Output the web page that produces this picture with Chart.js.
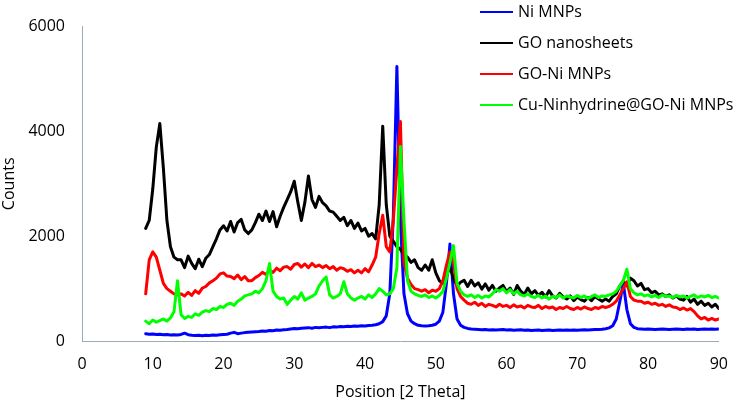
<!DOCTYPE html>
<html><head><meta charset="utf-8">
<script src="https://cdn.jsdelivr.net/npm/chart.js@4/dist/chart.umd.min.js"></script>
<style>html,body{margin:0;padding:0;background:#fff}#wrap{width:742px;height:408px;position:relative}</style>
</head><body><div id="wrap"><canvas id="c" width="742" height="408"></canvas></div>
<script>
const positions=[9,9.5,10,10.5,11,11.5,12,12.5,13,13.5,
14,14.5,15,15.5,16,16.5,17,17.5,18,18.5,
19,19.5,20,20.5,21,21.5,22,22.5,23,23.5,
24,24.5,25,25.5,26,26.5,27,27.5,28,28.5,
29,29.5,30,30.5,31,31.5,32,32.5,33,33.5,
34,34.5,35,35.5,36,36.5,37,37.5,38,38.5,
39,39.5,40,40.5,41,41.5,42,42.5,43,43.5,
44,44.5,45,45.5,46,46.5,47,47.5,48,48.5,
49,49.5,50,50.5,51,51.5,52,52.5,53,53.5,
54,54.5,55,55.5,56,56.5,57,57.5,58,58.5,
59,59.5,60,60.5,61,61.5,62,62.5,63,63.5,
64,64.5,65,65.5,66,66.5,67,67.5,68,68.5,
69,69.5,70,70.5,71,71.5,72,72.5,73,73.5,
74,74.5,75,75.5,76,76.5,77,77.5,78,78.5,
79,79.5,80,80.5,81,81.5,82,82.5,83,83.5,
84,84.5,85,85.5,86,86.5,87,87.5,88,88.5,
89,89.5,90];
const niMNPs=[140,130,135,125,130,120,125,115,120,115,
125,150,120,110,105,110,100,110,105,115,
110,120,125,130,150,165,140,150,160,165,
170,175,180,190,185,200,195,210,205,215,
220,230,240,235,245,250,255,245,260,255,
260,265,255,270,265,275,270,280,275,285,
280,290,285,295,300,310,330,370,480,900,
2400,5240,2300,900,520,380,330,300,290,285,
290,300,320,380,550,1100,1850,900,420,300,
260,240,230,225,220,215,220,210,215,210,
215,220,210,215,205,210,215,205,210,200,
205,210,200,205,210,200,205,210,205,210,
205,210,205,210,215,210,215,220,220,225,
235,250,290,420,750,1100,600,330,260,235,
230,225,230,225,220,225,230,225,220,225,
230,225,220,230,225,230,220,225,230,225,
230,225,230];
const goNanosheets=[2150,2300,2900,3700,4150,3300,2300,1800,1600,1550,
1550,1400,1620,1480,1380,1560,1420,1580,1650,1800,
1950,2120,2200,2100,2280,2080,2260,2320,2120,2050,
2120,2260,2420,2300,2480,2280,2470,2180,2380,2550,
2700,2850,3050,2650,2300,2650,3150,2700,2550,2760,
2640,2580,2480,2460,2380,2300,2360,2200,2300,2150,
2250,2100,2150,2000,2050,1950,2600,4100,2600,2000,
1900,1800,1750,1650,1600,1500,1550,1400,1350,1450,
1350,1550,1300,1150,1100,1250,1400,1200,1050,1120,
1160,1040,1160,1050,1110,990,1090,970,1060,950,
1010,1060,940,1010,890,1060,950,890,1010,900,
960,870,930,840,960,860,820,910,840,800,
860,770,840,790,760,830,770,850,800,760,
800,760,850,900,1050,1150,1050,1200,1150,1050,
1100,980,1000,920,950,880,900,850,880,820,
860,800,780,850,740,800,700,760,680,720,
650,700,620];
const goNiMNPs=[900,1550,1700,1600,1350,1100,1000,950,900,880,
900,860,930,870,960,910,1010,1040,1110,1150,
1200,1280,1300,1240,1230,1190,1260,1170,1230,1150,
1150,1210,1250,1310,1270,1350,1310,1390,1340,1410,
1420,1370,1460,1480,1410,1470,1400,1480,1420,1450,
1400,1440,1380,1420,1350,1400,1380,1330,1360,1300,
1350,1300,1380,1320,1450,1600,2050,2400,1800,1700,
2300,3300,4190,1500,1200,1080,1000,980,950,980,
920,970,950,1000,1150,1450,1700,1500,1000,850,
780,720,700,740,680,720,660,700,680,650,
700,660,680,640,690,650,670,630,680,650,
640,680,620,660,630,650,600,640,620,660,
620,600,640,610,650,620,600,640,620,660,
640,660,700,760,880,1000,1130,850,780,760,
760,720,740,700,720,680,700,660,690,650,
640,600,630,590,620,560,480,420,450,400,
430,400,420];
const cuNinhydrine=[380,330,400,360,390,420,380,440,560,1150,
500,430,470,450,520,490,550,580,560,620,
600,660,640,700,720,680,760,800,860,880,
900,950,920,1000,1150,1480,950,850,800,820,
700,780,850,800,920,780,820,850,900,1050,
1150,1220,880,820,850,900,1130,900,820,780,
820,850,800,880,830,900,1000,950,880,900,
1000,1400,3710,2300,1150,950,900,870,850,880,
830,860,820,870,950,1200,1500,1820,1100,950,
880,850,880,830,870,820,860,840,900,980,
950,1000,920,980,900,950,880,860,900,850,
830,870,820,860,800,850,830,880,820,860,
840,820,870,830,860,810,850,880,830,860,
850,880,900,950,1050,1150,1370,1000,920,880,
900,860,880,840,870,830,880,850,860,830,
870,840,860,820,850,880,830,860,840,870,
830,850,820];
const seriesNames=['Ni MNPs','GO nanosheets','GO-Ni MNPs','Cu-Ninhydrine@GO-Ni MNPs'];
const seriesColors=['#0000FF','#000000','#FF0000','#00FF00'];
const xTickValues=[0,10,20,30,40,50,60,70,80,90];
const yTickValues=[0,2000,4000,6000];
const xTitle='Position [2 Theta]';
const yTitle='Counts';

const FONT="'Open Sans', 'Liberation Sans', sans-serif";
Chart.defaults.font.family=FONT;
Chart.defaults.font.size=16;
Chart.defaults.color='#000';

const seriesValues=[niMNPs,goNanosheets,goNiMNPs,cuNinhydrine];
const datasets=seriesValues.map((vals,i)=>({
  label:seriesNames[i],
  data:vals,
  borderColor:seriesColors[i],
  backgroundColor:seriesColors[i],
  borderWidth:3,
  borderJoinStyle:'round',
  borderCapStyle:'round',
  pointRadius:0,
  tension:0,
  fill:false,
  order:seriesValues.length-i
}));

const legendPlugin={
  id:'cornerLegend',
  afterDraw(chart){
    const ctx=chart.ctx;
    ctx.save();
    ctx.font='16px '+FONT;
    ctx.textBaseline='middle';
    ctx.textAlign='left';
    seriesNames.forEach((name,i)=>{
      const y=12+i*31;
      ctx.strokeStyle=seriesColors[i];
      ctx.lineWidth=2;
      ctx.beginPath();ctx.moveTo(480,y);ctx.lineTo(513,y);ctx.stroke();
      ctx.fillStyle='#000';
      ctx.fillText(name,518,y);
    });
    ctx.restore();
  }
};

new Chart(document.getElementById('c'),{
  type:'line',
  data:{labels:positions,datasets},
  options:{
    responsive:false,
    animation:false,
    devicePixelRatio:1,
    layout:{padding:{top:8,right:20,left:0,bottom:0}},
    plugins:{legend:{display:false},tooltip:{enabled:false}},
    scales:{
      x:{
        type:'linear',min:0,max:90,
        afterFit:s=>{s.height=67;},
        afterBuildTicks:s=>{s.ticks=xTickValues.map(v=>({value:v}));},
        grid:{display:false,drawTicks:false},
        border:{display:true,color:'#9AAAB8',width:1},
        ticks:{padding:14,maxRotation:0,autoSkip:false,color:'#000',callback:v=>String(v)},
        title:{display:true,text:xTitle,padding:{top:0,bottom:6},color:'#000'}
      },
      y:{
        type:'linear',min:0,max:6000,
        afterFit:s=>{s.width=82;},
        afterBuildTicks:s=>{s.ticks=yTickValues.map(v=>({value:v}));},
        grid:{display:false,drawTicks:false},
        border:{display:true,color:'#9AAAB8',width:1},
        ticks:{padding:17,color:'#000',callback:v=>String(v)},
        title:{display:true,text:yTitle,padding:{top:0,bottom:0},color:'#000'}
      }
    }
  },
  plugins:[legendPlugin]
});
</script>
</body></html>
